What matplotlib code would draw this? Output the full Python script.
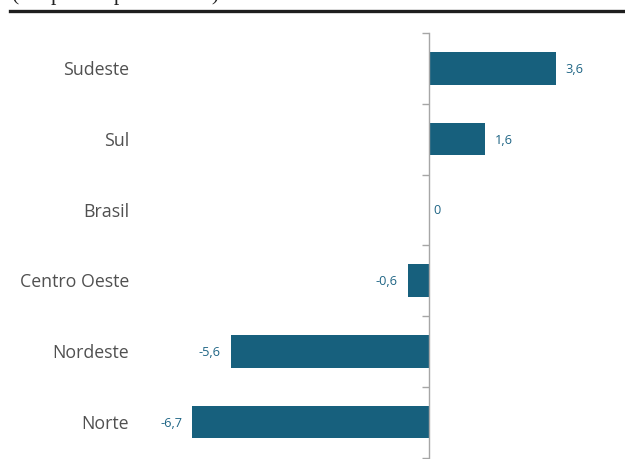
import matplotlib
matplotlib.use("Agg")
import matplotlib.pyplot as plt
import matplotlib.transforms as mtransforms
from matplotlib.lines import Line2D

categories = ["Sudeste", "Sul", "Brasil", "Centro Oeste", "Nordeste", "Norte"]
values = [3.6, 1.6, 0.0, -0.6, -5.6, -6.7]
value_labels = ["3,6", "1,6", "0", "-0,6", "-5,6", "-6,7"]
subtitle = "(em pontos percentuais)"

W, H = 625, 460
fig = plt.figure(figsize=(W / 100, H / 100), dpi=100)

bar_color = "#17607d"
label_color = "#505050"
val_color = "#1f6585"
axis_color = "#a6a6a6"

# axes placement in pixels
ax_left, ax_right = 140, 610
ax_top, ax_bottom = 34, 458.5
ax = fig.add_axes([ax_left / W, 1 - ax_bottom / H, (ax_right - ax_left) / W, (ax_bottom - ax_top) / H])

zero_px = 429
ppu = 35.3
ax.set_xlim((ax_left - zero_px) / ppu, (ax_right - zero_px) / ppu)
n = len(categories)
ax.set_ylim(n - 0.5, -0.5)

ypos = list(range(n))
ax.barh(ypos, values, height=0.46, color=bar_color, edgecolor="none", zorder=2)

for s in ["top", "right", "bottom"]:
    ax.spines[s].set_visible(False)
ax.spines["left"].set_position(("data", 0))
ax.spines["left"].set_color(axis_color)
ax.spines["left"].set_linewidth(1.0)
ax.spines["left"].set_zorder(3)
ax.set_xticks([])
ax.set_yticks([])
ax.set_yticks([i - 0.5 for i in range(n + 1)], minor=True)
ax.tick_params(axis="y", which="minor", length=5, width=1.0, color=axis_color, direction="out")
ax.tick_params(axis="y", which="major", length=0)

trans = mtransforms.blended_transform_factory(fig.transFigure, ax.transData)
for i, c in enumerate(categories):
    ax.text(129 / W, i + 0.01, c, transform=trans, ha="right", va="center",
            fontsize=12.8, color=label_color, family=["Open Sans", "DejaVu Sans"])

for i, (v, lab) in enumerate(zip(values, value_labels)):
    if v > 0:
        off, ha = 6.5, "left"
    elif v == 0:
        off, ha = 3.5, "left"
    else:
        off, ha = -7.5, "right"
    ax.annotate(lab, (v, i), xytext=(off, 0), textcoords="offset points",
                ha=ha, va="center", fontsize=9.2, color=val_color,
                family=["Open Sans", "DejaVu Sans"])

# header: subtitle clipped by the top edge (as in the reference) and thick rule
fig.text(12 / W, 1 - 0.2 / H, subtitle, ha="left", va="baseline", fontsize=15.5,
         color="#222222", family=["Liberation Serif", "DejaVu Serif"])
fig.add_artist(Line2D([10 / W, 1.0], [1 - 11.5 / H, 1 - 11.5 / H], color="#1e1e1e",
                      linewidth=2.4, transform=fig.transFigure))

fig.savefig("out.png", dpi=100)
